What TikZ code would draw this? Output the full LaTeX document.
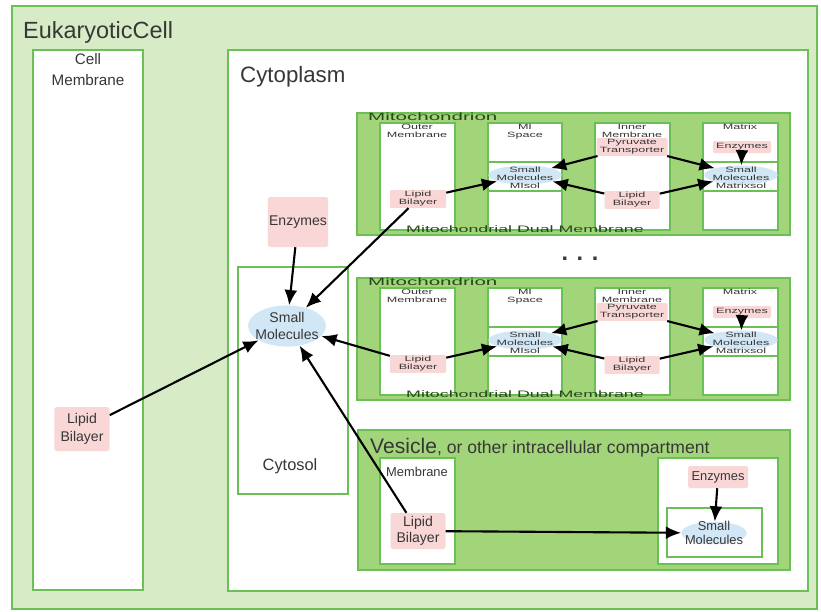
\documentclass[tikz,border=0pt]{standalone}
\usepackage{fontspec}
\setmainfont{Liberation Sans}
\usepackage{graphicx}
\usetikzlibrary{shapes.geometric, arrows.meta, positioning}

\definecolor{cellfill}{RGB}{215,236,198}
\definecolor{boxline}{RGB}{106,191,86}
\definecolor{mitofill}{RGB}{162,213,122}
\definecolor{pinkfill}{RGB}{250,215,215}
\definecolor{molfill}{RGB}{210,231,246}
\definecolor{txtgray}{RGB}{55,55,55}
\definecolor{mitotext}{RGB}{40,72,24}

\newcommand{\wide}[2]{\scalebox{#1}[1]{\begin{tabular}{@{}c@{}}#2\end{tabular}}}

\begin{document}
\begin{tikzpicture}[
      x=0.03cm, y=-0.03cm,
      every node/.style={text=txtgray},
      cellbox/.style={
          draw=boxline,
          line width=2pt
        },
      wbox/.style={
          draw=boxline,
          line width=1.8pt,
          fill=white
        },
      mbox/.style={
          draw=boxline,
          line width=2pt,
          fill=mitofill
        },
      boxtitle/.style={
          anchor=base west,
          inner sep=0pt
        },
      pinkbox/.style={
          rectangle,
          rounded corners=2pt,
          fill=pinkfill,
          align=center,
          inner sep=1pt,
          font=\fontsize{12}{15}\selectfont
        },
      molecule/.style={
          ellipse,
          fill=molfill,
          align=center,
          font=\fontsize{12}{14}\selectfont
        },
      mfont/.style={font=\fontsize{6.5}{6.5}\selectfont},
      mpink/.style={pinkbox, mfont, rounded corners=1pt},
      mmol/.style={molecule, mfont, inner xsep=-2pt, inner ysep=-1pt},
      mlabel/.style={inner sep=0pt, mfont},
      mname/.style={inner sep=0pt, text=mitotext},
      arrow/.style={
          -{Latex[length=13pt,width=11pt]},
          line width=1.8pt
        }
    ]
    \useasboundingbox (0,0) rectangle (821,611);

    % Containers
    \draw[cellbox, fill=cellfill] (12,6) rectangle (817,609);
    \node[boxtitle, font=\fontsize{20}{20}\selectfont] (cell) at (23,38) {EukaryoticCell};
    \draw[wbox, line width=2pt] (33,50) rectangle (143,590);
    \node[align=center, anchor=north, inner sep=0pt, font=\fontsize{13}{18}\selectfont] (cellmem) at (88,53) {Cell\\Membrane};
    \draw[wbox, line width=2pt] (228,50) rectangle (808,591);
    \node[boxtitle, font=\fontsize{19}{19}\selectfont] (cytoplasm) at (240,82) {Cytoplasm};
    \draw[wbox] (238,267) rectangle (348,494);
    \node[font=\fontsize{14}{14}\selectfont] (cytosol) at (290,466) {Cytosol};

    % Cytosol and cell membrane
    \node[pinkbox, minimum width=1.65cm, minimum height=1.32cm] (cmlip) at (82,429) {Lipid\\Bilayer};
    \node[pinkbox, minimum width=1.8cm, minimum height=1.5cm] (cyenz) at (298,222) {Enzymes};
    \node[molecule, inner xsep=-3.5pt, inner ysep=1pt] (cysm) at (287,326) {Small\\Molecules};
    \node[font=\bfseries\fontsize{20}{20}\selectfont] (dots) at (580,259) {. . .};

    % Mitochondria
    \foreach \m/\dy in {1/0, 2/165}{
      \begin{scope}[shift={(0,\dy)}]
        \draw[mbox] (357,113) rectangle (790,235);
        \draw[wbox] (380,123) rectangle (455,230);
        \draw[wbox] (488,123) rectangle (562,230);
        \draw[wbox] (488,162) rectangle (562,191);
        \draw[wbox] (595,123) rectangle (670,230);
        \draw[wbox] (703,123) rectangle (778,230);
        \draw[wbox] (703,162) rectangle (778,191);
        \node[mname, anchor=west, font=\fontsize{9}{9}\selectfont] (mito\m) at (368,118) {\wide{1.95}{Mitochondrion}};
        \node[mname, font=\fontsize{8}{8}\selectfont] (dual\m) at (525,231) {\wide{1.9}{Mitochondrial Dual Membrane}};
        \node[mlabel, anchor=north] (outer\m) at (417,124) {\wide{1.65}{Outer\\Membrane}};
        \node[mlabel, anchor=north] (mis\m) at (525,124) {\wide{1.65}{MI\\Space}};
        \node[mlabel, anchor=north] (inner\m) at (632,124) {\wide{1.65}{Inner\\Membrane}};
        \node[mlabel, anchor=north] (matrix\m) at (740,124) {\wide{1.65}{Matrix}};
        \node[mpink, minimum width=2.13cm, minimum height=0.42cm] (pyr\m) at (632,147) {\wide{1.65}{Pyruvate\\Transporter}};
        \node[mpink, minimum width=1.74cm, minimum height=0.36cm] (menz\m) at (742,147) {\wide{1.65}{Enzymes}};
        \node[mmol] (mism\m) at (525,175) {\wide{1.65}{Small\\Molecules}};
        \node[mmol] (mxsm\m) at (741,175) {\wide{1.65}{Small\\Molecules}};
        \node[mlabel] (misol\m) at (525,187) {\wide{1.65}{MIsol}};
        \node[mlabel] (mxsol\m) at (741,187) {\wide{1.65}{Matrixsol}};
        \node[mpink, minimum width=1.68cm, minimum height=0.45cm] (olip\m) at (418,199) {\wide{1.65}{Lipid\\Bilayer}};
        \node[mpink, minimum width=1.65cm, minimum height=0.45cm] (ilip\m) at (632,200) {\wide{1.65}{Lipid\\Bilayer}};
        \draw[arrow] (pyr\m) -- (mism\m);
        \draw[arrow] (pyr\m) -- (mxsm\m);
        \draw[arrow] (olip\m) -- (mism\m);
        \draw[arrow] (ilip\m) -- (mism\m);
        \draw[arrow] (ilip\m) -- (mxsm\m);
        \draw[arrow] (menz\m) -- (mxsm\m);
      \end{scope}
    }

    % Vesicle
    \draw[mbox] (358,430) rectangle (790,570);
    \node[boxtitle] (vesicle) at (370,453) {\fontsize{18}{18}\selectfont Vesicle\fontsize{15}{15}\selectfont, or other intracellular compartment};
    \draw[wbox] (380,458) rectangle (455,564);
    \node[boxtitle, font=\fontsize{11}{11}\selectfont] (vmem) at (386,476) {Membrane};
    \draw[wbox] (658,458) rectangle (778,564);
    \draw[wbox] (667,508) rectangle (762,557);
    \node[pinkbox, font=\fontsize{11}{11}\selectfont, minimum width=1.8cm, minimum height=0.66cm] (venz) at (718,477) {Enzymes};
    \node[molecule, font=\fontsize{11}{11.5}\selectfont, inner xsep=-5pt, inner ysep=-3pt] (vsm) at (714,533) {Small\\Molecules};
    \node[pinkbox, font=\fontsize{12}{14}\selectfont, minimum width=1.65cm, minimum height=1.08cm] (vlip) at (418,531) {Lipid\\Bilayer};

    % Arrows
    \draw[arrow] (venz) -- (vsm);
    \draw[arrow] (vlip) -- (vsm);
    \draw[arrow] (cyenz) -- (cysm);
    \draw[arrow] (cmlip) -- (cysm);
    \draw[arrow] (olip1) -- (cysm);
    \draw[arrow] (olip2) -- (cysm);
    \draw[arrow] (vlip) -- (cysm);

  \end{tikzpicture}
\end{document}
